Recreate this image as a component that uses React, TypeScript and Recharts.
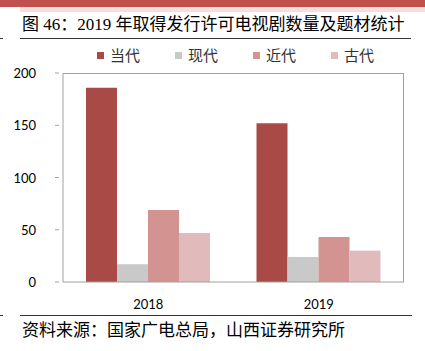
import React from "react";
import { BarChart, Bar, XAxis, YAxis } from "recharts";

const categories = ["2018", "2019"];
const seriesNames = ["当代", "现代", "近代", "古代"];
const dangdai = [186, 152];
const xiandai = [17, 24];
const jindai = [69, 43];
const gudai = [47, 30];
const yTicks = [0, 50, 100, 150, 200];
const colors = ["#A94A47", "#C9C9C9", "#D39391", "#E1BBBB"];

const data = categories.map((c, i) => ({
  name: c,
  s0: dangdai[i],
  s1: xiandai[i],
  s2: jindai[i],
  s3: gudai[i],
}));

const cjk = '"Noto Sans CJK SC", sans-serif';
const titleFont = '"Liberation Serif", "Noto Sans CJK SC", serif';
const tickFont = 'Lato, "Noto Sans", sans-serif';

const YTick = (props: any) => {
  const { x, y, payload } = props;
  return (
    <g>
      <line x1={x} x2={x + 4} y1={y} y2={y} stroke="#A0A0A0" strokeWidth={1} />
      <text x={x - 19} y={y} dy={5} textAnchor="end" fontSize={13} fontFamily={tickFont} fill="#000">
        {payload.value}
      </text>
    </g>
  );
};

export default function App() {
  return (
    <div style={{ position: "absolute", left: 0, top: 0, width: 425, height: 351, background: "#fff", overflow: "hidden" }}>
      <div style={{ position: "absolute", left: 0, top: 0, width: 425, height: 7, background: "#C0504D" }} />
      <div style={{ position: "absolute", left: 20, top: 7, width: 405, height: 5, background: "#F4DEDE" }} />
      <div style={{ position: "absolute", left: 22, top: 15, fontSize: 17, fontFamily: titleFont, whiteSpace: "nowrap", color: "#000", lineHeight: "20px" }}>
        图 46：2019 年取得发行许可电视剧数量及题材统计
      </div>
      <div style={{ position: "absolute", left: 20, top: 38, width: 391, height: 1, background: "#333" }} />
      <div style={{ position: "absolute", left: 0, top: 38, width: 3, height: 1, background: "#333" }} />
      {seriesNames.map((n, i) => (
        <div key={n} style={{ position: "absolute", left: 97 + i * 78, top: 45, height: 20, display: "flex", alignItems: "center", whiteSpace: "nowrap" }}>
          <div style={{ width: 7, height: 7, background: colors[i], marginRight: 6 }} />
          <span style={{ fontSize: 15, fontFamily: cjk, color: "#333", lineHeight: "20px" }}>{n}</span>
        </div>
      ))}
      <div style={{ position: "absolute", left: 0, top: 0 }}>
        <BarChart
          width={425}
          height={351}
          data={data}
          margin={{ top: 73, right: 21, bottom: 39, left: 23 }}
          barCategoryGap={23}
          barGap={0}
        >
          <XAxis
            dataKey="name"
            height={30}
            axisLine={{ stroke: "#A0A0A0" }}
            tickLine={false}
            tick={{ fontSize: 13, fontFamily: tickFont, fill: "#000" }}
            tickMargin={12}
            interval={0}
          />
          <YAxis
            width={40}
            domain={[0, 200]}
            ticks={yTicks}
            axisLine={{ stroke: "#A0A0A0" }}
            tickLine={false}
            tick={<YTick />}
            interval={0}
          />
          <Bar dataKey="s0" fill={colors[0]} isAnimationActive={false} />
          <Bar dataKey="s1" fill={colors[1]} isAnimationActive={false} />
          <Bar dataKey="s2" fill={colors[2]} isAnimationActive={false} />
          <Bar dataKey="s3" fill={colors[3]} isAnimationActive={false} />
        </BarChart>
      </div>
      <div style={{ position: "absolute", left: 63, top: 73, width: 341, height: 209, borderTop: "1px solid #A0A0A0", borderRight: "1px solid #A0A0A0", boxSizing: "border-box", pointerEvents: "none" }} />
      <div style={{ position: "absolute", left: 20, top: 315, width: 392, height: 1, background: "#333" }} />
      <div style={{ position: "absolute", left: 0, top: 315, width: 3, height: 1, background: "#333" }} />
      <div style={{ position: "absolute", left: 22, top: 319, fontSize: 17, fontFamily: cjk, whiteSpace: "nowrap", color: "#000", lineHeight: "20px" }}>
        资料来源：国家广电总局，山西证券研究所
      </div>
    </div>
  );
}
